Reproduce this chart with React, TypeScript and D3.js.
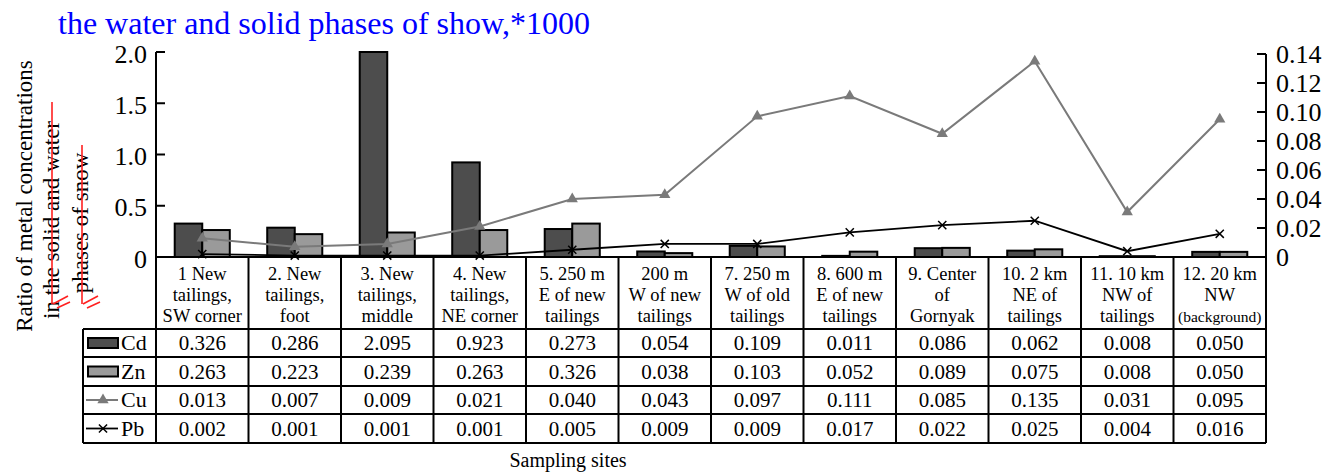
import React from "react";
import * as d3 from "d3";

const sites = [
  ["1 New", "tailings,", "SW corner"],
  ["2. New", "tailings,", "foot"],
  ["3. New", "tailings,", "middle"],
  ["4. New", "tailings,", "NE corner"],
  ["5. 250 m", "E of new", "tailings"],
  ["200 m", "W of new", "tailings"],
  ["7. 250 m", "W of old", "tailings"],
  ["8. 600 m", "E of new", "tailings"],
  ["9. Center", "of", "Gornyak"],
  ["10. 2 km", "NE of", "tailings"],
  ["11. 10 km", "NW of", "tailings"],
  ["12. 20 km", "NW", "(background)"],
];

const cd = [0.326, 0.286, 2.095, 0.923, 0.273, 0.054, 0.109, 0.011, 0.086, 0.062, 0.008, 0.05];
const zn = [0.263, 0.223, 0.239, 0.263, 0.326, 0.038, 0.103, 0.052, 0.089, 0.075, 0.008, 0.05];
const cu = [0.013, 0.007, 0.009, 0.021, 0.04, 0.043, 0.097, 0.111, 0.085, 0.135, 0.031, 0.095];
const pb = [0.002, 0.001, 0.001, 0.001, 0.005, 0.009, 0.009, 0.017, 0.022, 0.025, 0.004, 0.016];

const leftTicks = [0, 0.5, 1.0, 1.5, 2.0];
const rightTicks = [0, 0.02, 0.04, 0.06, 0.08, 0.1, 0.12, 0.14];

const FONT = "'Liberation Serif', 'Times New Roman', serif";
const CD_FILL = "#4d4d4d";
const ZN_FILL = "#9a9a9a";
const CU_COLOR = "#7a7a7a";

export default function App() {
  const left = 156;
  const right = 1266;
  const base = 257;
  const headerBottom = 329;
  const rowLines = [329, 357, 386, 414, 443];
  const legendLeft = 83;

  const x = d3
    .scaleBand<number>()
    .domain(d3.range(sites.length))
    .range([left, right])
    .padding(0);
  const cw = x.bandwidth();
  const x1 = d3.scaleBand().domain(["Cd", "Zn"]).range([0, cw]).paddingOuter(0.68).paddingInner(0);

  const yL = d3.scaleLinear().domain([0, 2]).range([base, 52]).clamp(true);
  const yR = d3.scaleLinear().domain([0, 0.14]).range([base, 54]);

  const cx = (i: number) => (x(i) as number) + cw / 2;

  const line = d3
    .line<number>()
    .x((_, i) => cx(i))
    .y((d) => yR(d));

  const tri = d3.symbol().type(d3.symbolTriangle).size(55)();
  const cross = d3.symbol().type(d3.symbolX).size(45)();

  const rows = [
    { key: "Cd", values: cd },
    { key: "Zn", values: zn },
    { key: "Cu", values: cu },
    { key: "Pb", values: pb },
  ];

  const renderLegend = (key: string, yc: number) => {
    const lx0 = 88;
    const lx1 = 118;
    if (key === "Cd" || key === "Zn") {
      return (
        <rect x={lx0} y={yc - 5} width={lx1 - lx0} height={10}
          fill={key === "Cd" ? CD_FILL : ZN_FILL} stroke="#000" strokeWidth={2} />
      );
    }
    const color = key === "Cu" ? CU_COLOR : "#000";
    return (
      <g>
        <line x1={lx0 - 2} x2={lx1} y1={yc} y2={yc} stroke={color} strokeWidth={key === "Cu" ? 2 : 1.8} />
        <path d={key === "Cu" ? tri! : cross!} transform={`translate(${(lx0 + lx1) / 2},${yc})`}
          fill={key === "Cu" ? CU_COLOR : "none"} stroke={key === "Cu" ? "none" : "#000"} strokeWidth={1.5} />
      </g>
    );
  };

  return (
    <svg width={1326} height={473} style={{ position: "absolute", left: 0, top: 0 }} fontFamily={FONT}>
      <rect width={1326} height={473} fill="#fff" />

      {/* title */}
      <text x={58} y={34} fontSize={32} fill="#0000ff">the water and solid phases of show,*1000</text>

      {/* y axis label */}
      <g fontSize={23} fill="#000" textAnchor="middle">
        <text transform={`translate(32,196) rotate(-90)`}>Ratio of metal concentrations</text>
        <text transform={`translate(59,220) rotate(-90)`}>in the solid and water</text>
        <text transform={`translate(88,223) rotate(-90)`}>phases of snow</text>
      </g>
      <g stroke="#ff2020" strokeWidth={1.6} fill="none">
        <line x1={52} x2={52} y1={102} y2={304} />
        <path d="M53,304 L68,296 M57,308 L70,302" />
        <line x1={82} x2={82} y1={145} y2={304} />
        <path d="M83,304 L98,296 M87,308 L100,302" />
      </g>

      {/* bars */}
      {cd.map((v, i) => (
        <rect key={"cd" + i} x={(x(i) as number) + (x1("Cd") as number)} y={yL(v)}
          width={x1.bandwidth()} height={base - yL(v)} fill={CD_FILL} stroke="#000" strokeWidth={2} />
      ))}
      {zn.map((v, i) => (
        <rect key={"zn" + i} x={(x(i) as number) + (x1("Zn") as number)} y={yL(v)}
          width={x1.bandwidth()} height={base - yL(v)} fill={ZN_FILL} stroke="#000" strokeWidth={2} />
      ))}

      {/* lines */}
      <path d={line(cu)!} fill="none" stroke={CU_COLOR} strokeWidth={2} />
      {cu.map((v, i) => (
        <path key={"cu" + i} d={tri!} transform={`translate(${cx(i)},${yR(v)})`} fill={CU_COLOR} />
      ))}
      <path d={line(pb)!} fill="none" stroke="#000" strokeWidth={1.8} />
      {pb.map((v, i) => (
        <path key={"pb" + i} d={cross!} transform={`translate(${cx(i)},${yR(v)})`} fill="none" stroke="#000" strokeWidth={1.5} />
      ))}

      {/* left axis */}
      <g stroke="#000" strokeWidth={2}>
        <line x1={left} x2={left} y1={yL(2)} y2={rowLines[4]} />
        {leftTicks.map((t) => (
          <line key={"lt" + t} x1={left} x2={left + 9} y1={yL(t)} y2={yL(t)} />
        ))}
      </g>
      <g fontSize={26} textAnchor="end">
        {leftTicks.map((t) => (
          <text key={"ll" + t} x={147} y={yL(t) + 10.5}>{t === 0 ? "0" : d3.format(".1f")(t)}</text>
        ))}
      </g>

      {/* right axis */}
      <g stroke="#000" strokeWidth={2}>
        <line x1={right} x2={right} y1={yR(0.14)} y2={rowLines[4]} />
        {rightTicks.map((t) => (
          <line key={"rt" + t} x1={right - 9} x2={right} y1={yR(t)} y2={yR(t)} />
        ))}
      </g>
      <g fontSize={26} textAnchor="start">
        {rightTicks.map((t) => (
          <text key={"rl" + t} x={1276} y={yR(t) + 9}>{t === 0 ? "0" : d3.format(".2f")(t)}</text>
        ))}
      </g>

      {/* table grid */}
      <g stroke="#000" strokeWidth={2}>
        <line x1={left} x2={right} y1={base} y2={base} />
        {rowLines.map((ry) => (
          <line key={"rl" + ry} x1={legendLeft} x2={right} y1={ry} y2={ry} />
        ))}
        <line x1={legendLeft} x2={legendLeft} y1={headerBottom} y2={rowLines[4]} />
        {sites.map((_, i) =>
          i === 0 ? null : (
            <line key={"vl" + i} x1={x(i) as number} x2={x(i) as number} y1={base} y2={rowLines[4]} />
          )
        )}
      </g>

      {/* header labels */}
      <g textAnchor="middle" fontSize={18.5}>
        {sites.map((lines, i) =>
          lines.map((s, j) => (
            <text key={"h" + i + j} x={cx(i)} y={280 + j * 21}
              fontSize={s === "(background)" ? 15.5 : 18.5}>{s}</text>
          ))
        )}
      </g>

      {/* table rows */}
      {rows.map((r, k) => {
        const y0 = rowLines[k];
        const y1 = rowLines[k + 1];
        const yc = (y0 + y1) / 2;
        return (
          <g key={r.key}>
            {renderLegend(r.key, yc)}
            <text x={121} y={yc + 7} fontSize={22}>{r.key}</text>
            {r.values.map((v, i) => (
              <text key={i} x={cx(i)} y={yc + 7} fontSize={21} textAnchor="middle">{d3.format(".3f")(v)}</text>
            ))}
          </g>
        );
      })}

      {/* x axis title */}
      <text x={568} y={467} fontSize={20} textAnchor="middle">Sampling sites</text>
    </svg>
  );
}
